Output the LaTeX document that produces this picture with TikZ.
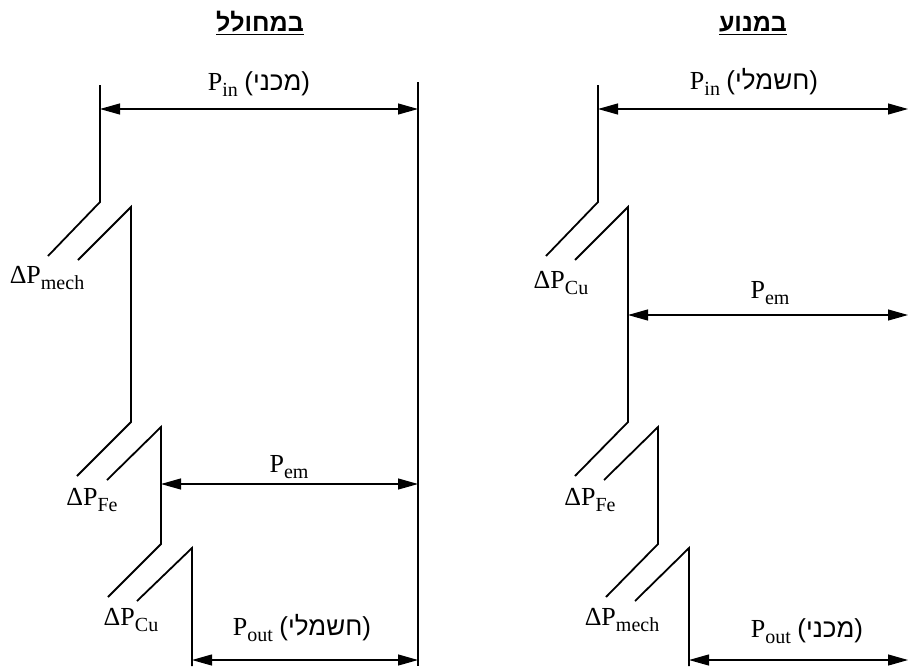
\documentclass[tikz,border=0pt]{standalone}
\usepackage{fontspec}
\setmainfont{Liberation Serif}
\newfontfamily\hebfont[Script=Hebrew]{Liberation Sans}
\newfontfamily\parfont{Liberation Sans}
\TeXXeTstate=1
\usetikzlibrary{arrows.meta}
\newcommand{\heb}[1]{{\parfont(}{\hebfont\beginR #1\endR}{\parfont)}}
\newcommand{\pw}[2]{#1\raisebox{-6pt}{\fontsize{20}{22}\selectfont #2}}
\tikzset{
  wall/.style={line width=1.8pt},
  flow/.style={line width=1.1pt, {Triangle[length=20pt,width=11pt]}-{Triangle[length=20pt,width=11pt]}},
  lbl/.style={font=\fontsize{26}{30}\selectfont, inner sep=0pt, anchor=base},
  ttl/.style={font=\hebfont\bfseries\fontsize{25}{28}\selectfont, inner sep=0pt, anchor=base},
  uline/.style={line width=1pt}
}
\begin{document}
\begin{tikzpicture}[x=1pt,y=-1pt]
\useasboundingbox (0,0) rectangle (909,667);
% ---------- left: generator ----------
\node[ttl] (tL) at (260,31) {\beginR במחולל\endR};
\draw[uline] ([yshift=-3pt]tL.base west) -- ([yshift=-3pt]tL.base east);
\coordinate (a1) at (100,85);  \coordinate (a2) at (100,202); \coordinate (a3) at (48,256);
\coordinate (b1) at (78,260);  \coordinate (b2) at (131,207); \coordinate (b3) at (131,422); \coordinate (b4) at (77,476);
\coordinate (c1) at (107,480); \coordinate (c2) at (161,427); \coordinate (c3) at (161,544); \coordinate (c4) at (108,597);
\coordinate (d1) at (137,601); \coordinate (d2) at (192,548); \coordinate (d3) at (192,666);
\coordinate (w1) at (418,82);  \coordinate (w2) at (418,666);
\draw[wall] (a1) -- (a2) -- (a3);
\draw[wall] (b1) -- (b2) -- (b3) -- (b4);
\draw[wall] (c1) -- (c2) -- (c3) -- (c4);
\draw[wall] (d1) -- (d2) -- (d3);
\draw[wall] (w1) -- (w2);
\coordinate (pinL1) at (100,109); \coordinate (pinL2) at (418,109);
\coordinate (pemL1) at (161,484); \coordinate (pemL2) at (418,484);
\coordinate (poutL1) at (192,660); \coordinate (poutL2) at (418,660);
\draw[flow] (pinL1) -- (pinL2);
\draw[flow] (pemL1) -- (pemL2);
\draw[flow] (poutL1) -- (poutL2);
\node[lbl] (lpinL) at (259,90) {\pw{P}{in} \heb{מכני}};
\node[lbl] (lpemL) at (289,472) {\pw{P}{em}};
\node[lbl] (lpoutL) at (302,635) {\pw{P}{out} \heb{חשמלי}};
\node[lbl] (lmechL) at (47,283) {\pw{ΔP}{mech}};
\node[lbl] (lfeL) at (92,505) {\pw{ΔP}{Fe}};
\node[lbl] (lcuL) at (131,625) {\pw{ΔP}{Cu}};
% ---------- right: motor ----------
\node[ttl] (tR) at (753,31) {\beginR במנוע\endR};
\draw[uline] ([yshift=-3pt]tR.base west) -- ([yshift=-3pt]tR.base east);
\coordinate (A1) at (598,85);  \coordinate (A2) at (598,202); \coordinate (A3) at (546,256);
\coordinate (B1) at (575,260); \coordinate (B2) at (628,207); \coordinate (B3) at (628,422); \coordinate (B4) at (575,476);
\coordinate (C1) at (604,480); \coordinate (C2) at (658,427); \coordinate (C3) at (658,544); \coordinate (C4) at (606,597);
\coordinate (D1) at (635,601); \coordinate (D2) at (689,548); \coordinate (D3) at (689,666);
\draw[wall] (A1) -- (A2) -- (A3);
\draw[wall] (B1) -- (B2) -- (B3) -- (B4);
\draw[wall] (C1) -- (C2) -- (C3) -- (C4);
\draw[wall] (D1) -- (D2) -- (D3);
\coordinate (pinR1) at (598,109); \coordinate (pinR2) at (908,109);
\coordinate (pemR1) at (628,315); \coordinate (pemR2) at (908,315);
\coordinate (poutR1) at (689,660); \coordinate (poutR2) at (908,660);
\draw[flow] (pinR1) -- (pinR2);
\draw[flow] (pemR1) -- (pemR2);
\draw[flow] (poutR1) -- (poutR2);
\node[lbl] (lpinR) at (754,89) {\pw{P}{in} \heb{חשמלי}};
\node[lbl] (lpemR) at (770,298) {\pw{P}{em}};
\node[lbl] (lpoutR) at (807,637) {\pw{P}{out} \heb{מכני}};
\node[lbl] (lcuR) at (561,288) {\pw{ΔP}{Cu}};
\node[lbl] (lfeR) at (590,505) {\pw{ΔP}{Fe}};
\node[lbl] (lmechR) at (622,625) {\pw{ΔP}{mech}};
\end{tikzpicture}
\end{document}
